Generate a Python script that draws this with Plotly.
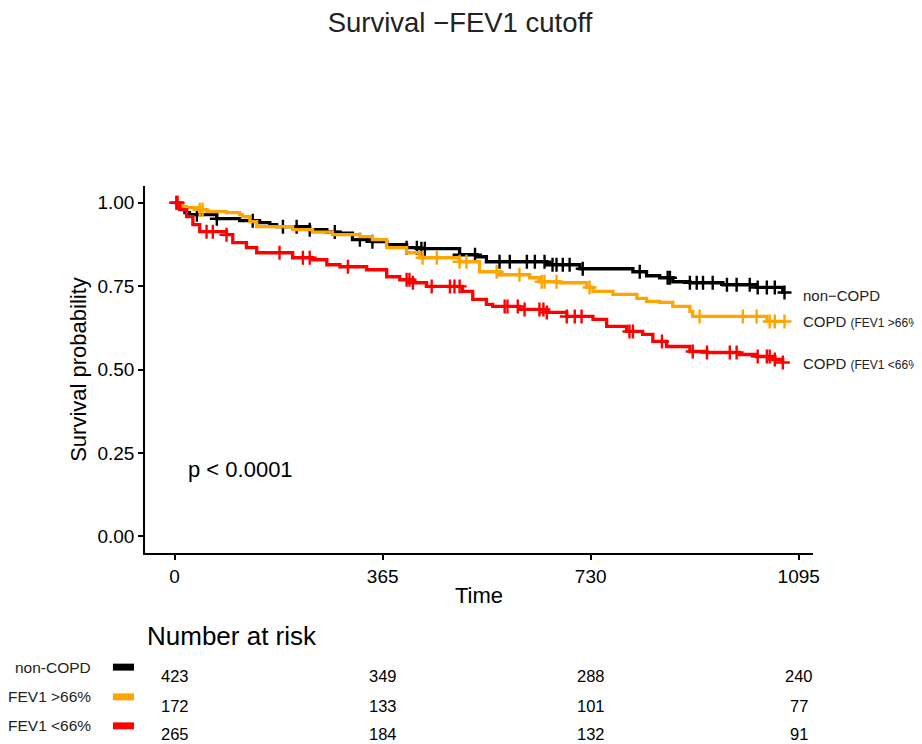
import numpy as np
import plotly.graph_objects as go

# ---- Data ----
noncopd_time = [0, 9, 18, 26, 74, 114, 149, 167, 179, 237, 267, 290, 312, 347, 372, 407, 430, 500, 530, 547,
                653, 711, 804, 828, 851, 874, 904, 962, 1021, 1067, 1070]
noncopd_surv = [1.000, 0.982, 0.970, 0.964, 0.952, 0.946, 0.940, 0.934, 0.928, 0.919, 0.912, 0.909, 0.889, 0.883,
                0.874, 0.865, 0.862, 0.844, 0.838, 0.823, 0.814, 0.802, 0.793, 0.781, 0.775, 0.763, 0.760, 0.754,
                0.746, 0.731, 0.731]
noncopd_cens = [39, 74, 137, 190, 214, 237, 281, 325, 347, 407, 425, 433, 439, 500, 527, 570, 588, 618, 632, 649,
                663, 670, 681, 693, 716, 816, 865, 869, 904, 916, 927, 944, 969, 986, 1009, 1023, 1039, 1053, 1070]

high_time = [0, 9, 14, 21, 44, 56, 91, 114, 119, 132, 144, 207, 242, 277, 325, 347, 372, 407, 430, 500, 535, 570,
             623, 640, 676, 723, 734, 769, 811, 828, 851, 874, 904, 909, 1039, 1070]
high_surv = [1.000, 0.994, 0.988, 0.985, 0.979, 0.973, 0.970, 0.964, 0.958, 0.943, 0.928, 0.919, 0.912, 0.904,
             0.898, 0.889, 0.865, 0.850, 0.835, 0.823, 0.793, 0.784, 0.775, 0.763, 0.760, 0.746, 0.734, 0.725,
             0.713, 0.704, 0.701, 0.689, 0.674, 0.659, 0.644, 0.644]
high_cens = [3, 5, 44, 49, 435, 460, 500, 512, 565, 605, 644, 649, 670, 728, 921, 997, 1021, 1044, 1053, 1070]

low_time = [0, 9, 21, 32, 44, 91, 102, 126, 144, 207, 242, 267, 290, 337, 372, 395, 418, 442, 505, 523, 547, 558,
            605, 653, 688, 734, 758, 793, 821, 839, 863, 904, 934, 991, 1021, 1049, 1067]
low_surv = [1.000, 0.979, 0.958, 0.934, 0.913, 0.904, 0.880, 0.865, 0.850, 0.835, 0.829, 0.814, 0.808, 0.799,
            0.778, 0.769, 0.760, 0.749, 0.734, 0.710, 0.695, 0.689, 0.680, 0.671, 0.659, 0.650, 0.629, 0.614,
            0.605, 0.584, 0.569, 0.554, 0.551, 0.545, 0.539, 0.530, 0.521]
low_cens = [3, 5, 56, 67, 91, 184, 225, 237, 304, 407, 412, 418, 451, 483, 491, 500, 579, 584, 602, 614, 640, 647,
            653, 688, 702, 714, 798, 804, 855, 909, 934, 974, 986, 1023, 1039, 1044, 1053, 1067]

curve_labels = ["non\u2212COPD", "COPD <span style='font-size:12px'>(FEV1 &gt;66%</span>",
                "COPD <span style='font-size:12px'>(FEV1 &lt;66%</span>"]
curve_label_y = [0.722, 0.644, 0.518]
colors = ["#000000", "#FFA500", "#FF0000"]

risk_times = [0, 365, 730, 1095]
risk_labels = ["non-COPD", "FEV1 &gt;66%", "FEV1 &lt;66%"]
risk_noncopd = [423, 349, 288, 240]
risk_high = [172, 133, 101, 77]
risk_low = [265, 184, 132, 91]

x_ticks = [0, 365, 730, 1095]
y_ticks = [0.00, 0.25, 0.50, 0.75, 1.00]

FONT = "Liberation Sans, Arial, sans-serif"


def step_at(times, survs, ts):
    t = np.asarray(times)
    s = np.asarray(survs)
    idx = np.searchsorted(t, np.asarray(ts), side="right") - 1
    return s[np.clip(idx, 0, len(s) - 1)]


fig = go.Figure()
groups = [(noncopd_time, noncopd_surv, noncopd_cens), (high_time, high_surv, high_cens),
          (low_time, low_surv, low_cens)]
for (t, s, c), col in zip(groups, colors):
    fig.add_trace(go.Scatter(x=t, y=s, mode="lines", line=dict(color=col, width=3.3, shape="hv"),
                             showlegend=False, hoverinfo="skip"))
    fig.add_trace(go.Scatter(x=c, y=step_at(t, s, c), mode="markers",
                             marker=dict(symbol="cross-thin", size=10, line=dict(color=col, width=2.4)),
                             showlegend=False, hoverinfo="skip", cliponaxis=False))

ann = []
# curve end labels
for lab, yv in zip(curve_labels, curve_label_y):
    ann.append(dict(x=1099, y=yv, xref="x", yref="y", text=lab, showarrow=False, xanchor="left",
                    yanchor="middle", font=dict(size=15, color="#222222", family=FONT)))
# p-value
ann.append(dict(x=20, y=0.20, xref="x", yref="y", text="p &lt; 0.0001", showarrow=False, xanchor="left",
                yanchor="middle", font=dict(size=22, color="black", family=FONT)))
# risk table
ann.append(dict(x=0, y=-0.226, xref="paper", yref="paper", text="Number at risk", showarrow=False,
                xanchor="left", yanchor="middle", font=dict(size=26, color="black", family=FONT)))
row_y = [-0.335, -0.417, -0.493]
lab_y = [-0.311, -0.392, -0.471]
for lab, ly in zip(risk_labels, lab_y):
    ann.append(dict(x=-0.078, y=ly, xref="paper", yref="paper", text=lab, showarrow=False, xanchor="right",
                    yanchor="middle", font=dict(size=15.5, color="#222222", family=FONT)))
for vals, ry in zip([risk_noncopd, risk_high, risk_low], row_y):
    for tx, v in zip(risk_times, vals):
        ann.append(dict(x=tx, y=ry, xref="x", yref="paper", text=str(v), showarrow=False, xanchor="center",
                        yanchor="middle", font=dict(size=16.5, color="black", family=FONT)))

shapes = []
for col, ly in zip(colors, lab_y):
    shapes.append(dict(type="rect", xref="paper", yref="paper", x0=-0.048, x1=-0.0165, y0=ly - 0.0095,
                       y1=ly + 0.0095, fillcolor=col, line=dict(width=0)))

fig.update_layout(
    width=914, height=736,
    margin=dict(l=137, r=109, t=178, b=191),
    paper_bgcolor="white", plot_bgcolor="white",
    title=dict(text="Survival \u2212FEV1 cutoff", x=0.4945, xanchor="center", y=0.981, yanchor="middle",
               font=dict(size=27.5, color="#222222", family=FONT)),
    xaxis=dict(range=[-52, 1120], tickvals=x_ticks, showgrid=False, zeroline=False, showline=True,
               linecolor="black", linewidth=1.6, ticks="outside", ticklen=5, tickwidth=1.6, tickcolor="black",
               tickfont=dict(size=19, color="black", family=FONT),
               title=dict(text="Time", font=dict(size=22, color="black", family=FONT), standoff=2)),
    yaxis=dict(range=[-0.05, 1.05], tickvals=y_ticks, tickformat=".2f", showgrid=False, zeroline=False,
               showline=True, linecolor="black", linewidth=1.6, ticks="outside", ticklen=5, tickwidth=1.6,
               tickcolor="black", tickfont=dict(size=19, color="black", family=FONT),
               title=dict(text="Survival probability", font=dict(size=22, color="black", family=FONT),
                          standoff=5)),
    annotations=ann, shapes=shapes,
)

fig.write_html("out.html",
               post_script="document.documentElement.style.overflow='hidden';"
                           "document.body.style.overflow='hidden';")
